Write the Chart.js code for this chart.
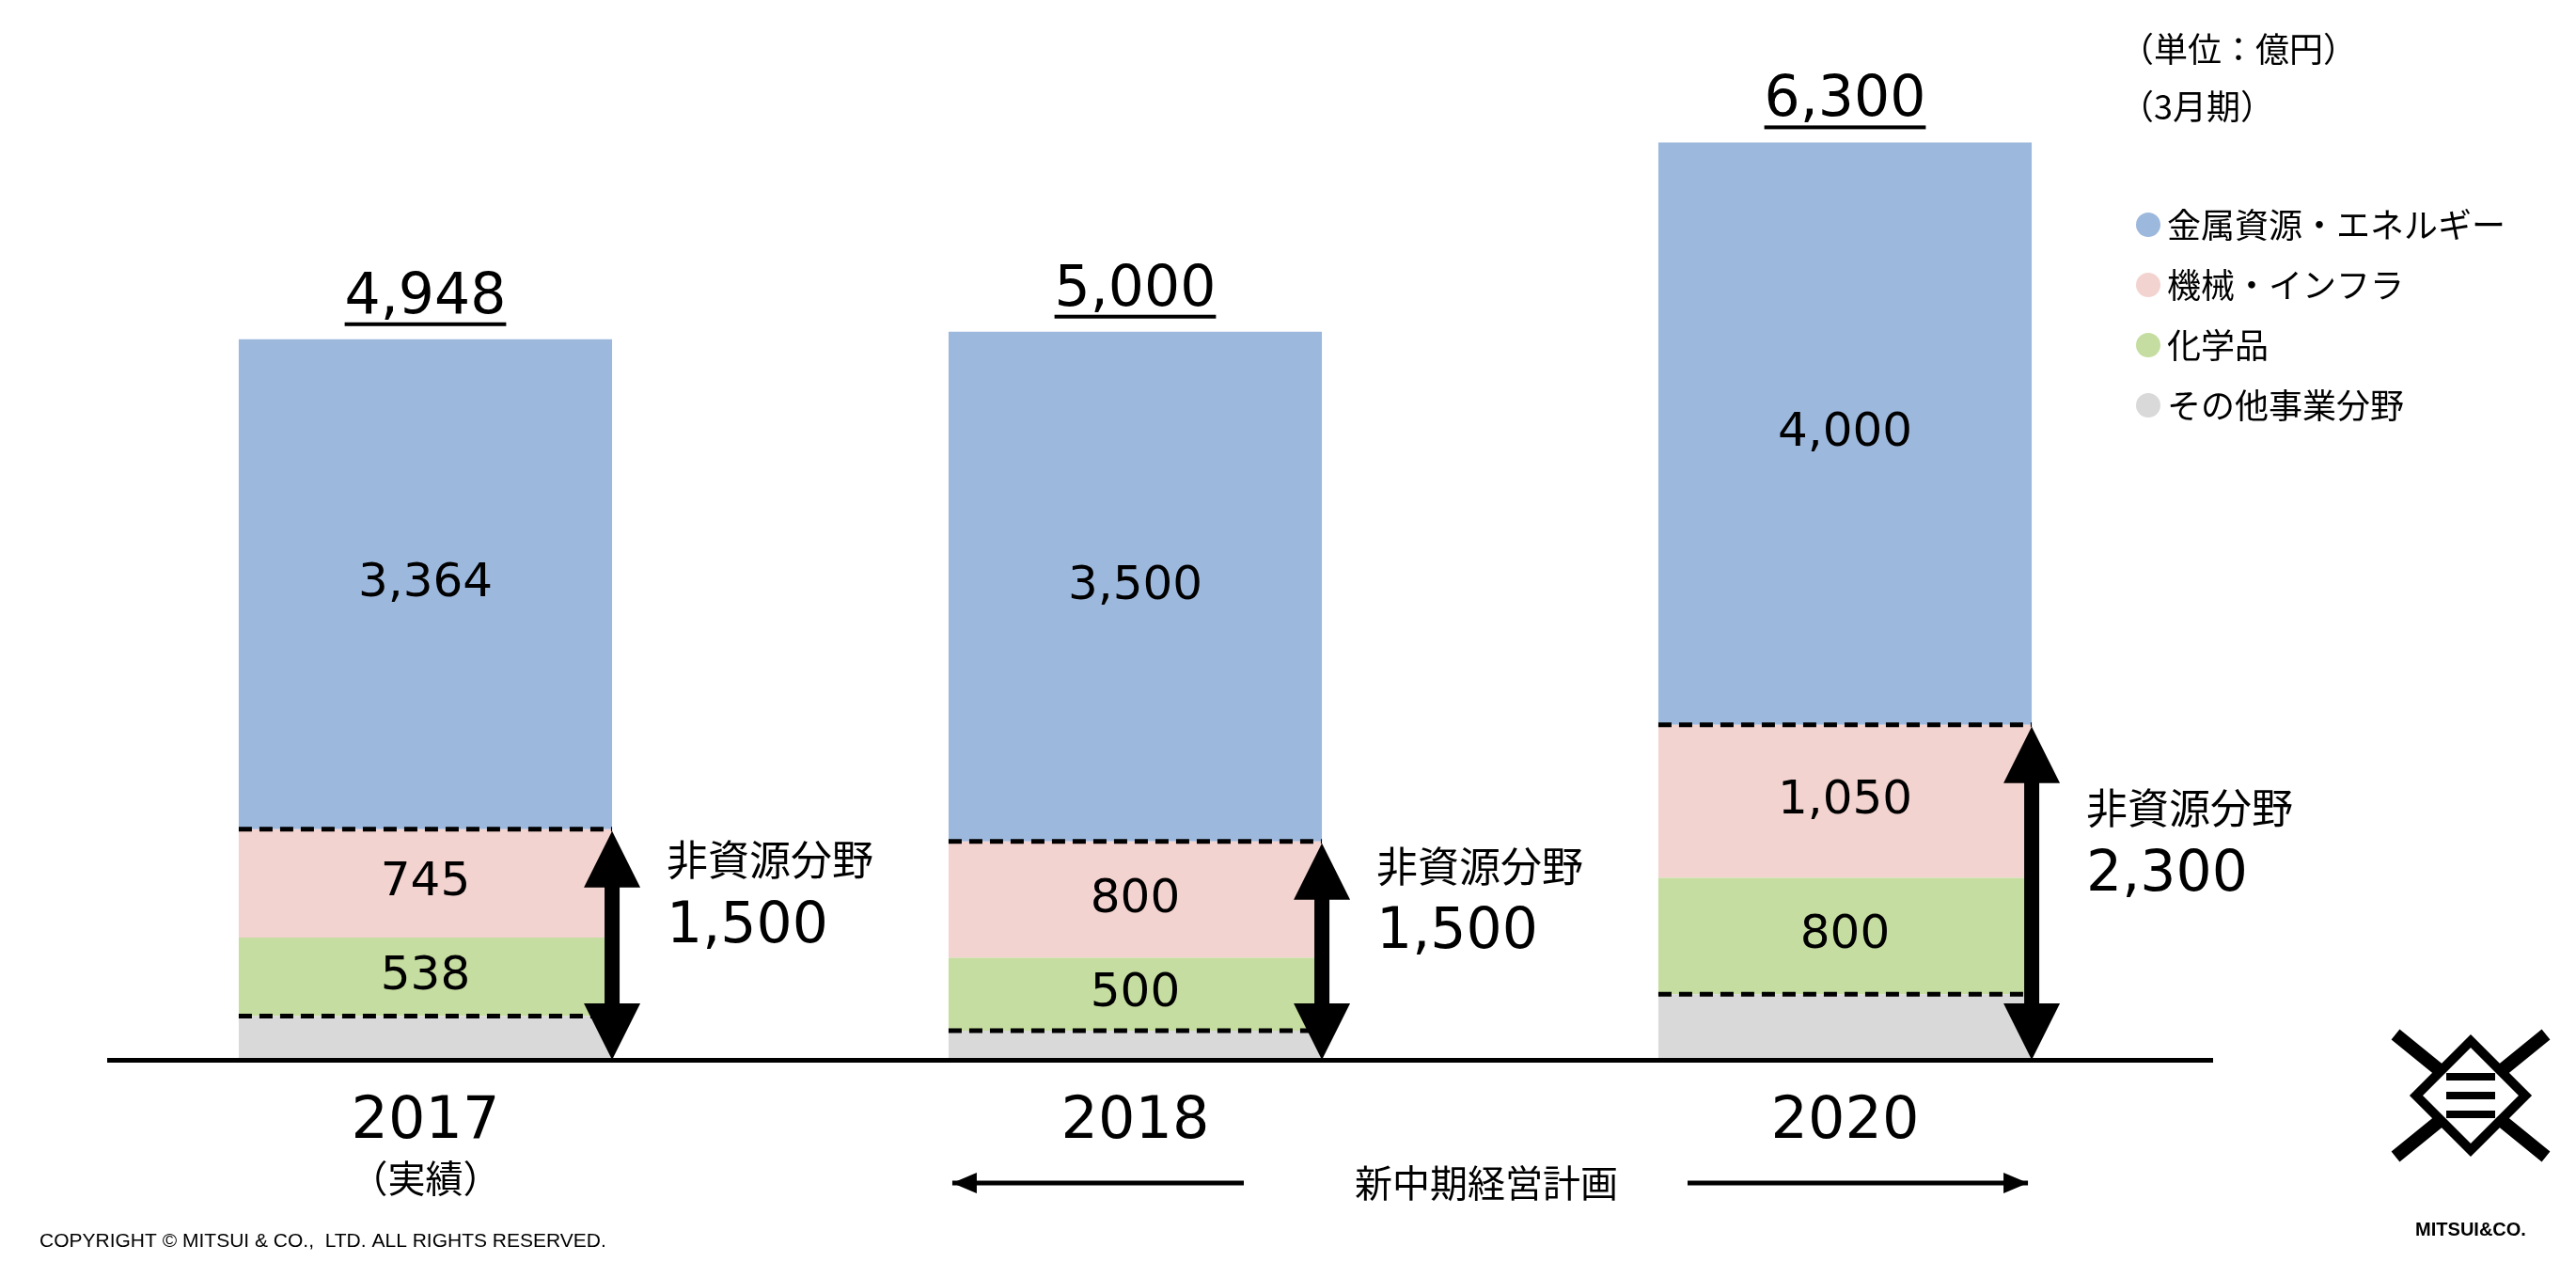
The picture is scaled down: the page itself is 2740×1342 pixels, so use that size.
<!DOCTYPE html>
<html>
<head>
<meta charset="utf-8">
<script src="https://cdn.jsdelivr.net/npm/chart.js@4"></script>
<style>
  html, body { margin: 0; padding: 0; background: #fff; }
  #wrap { width: 2740px; height: 1342px; }
</style>
</head>
<body>
<div id="wrap"><canvas id="c" width="2740" height="1342"></canvas></div>
<script>
// セグメント別当期利益（億円）
const years = ['2017', '2018', '2020'];
const yearNotes = ['（実績）', '', ''];
const other = [301, 200, 450];
const chemicals = [538, 500, 800];
const machinery = [745, 800, 1050];
const metals = [3364, 3500, 4000];
const totals = [4948, 5000, 6300];
const nonResource = [1500, 1500, 2300];
const legendNames = ['金属資源・エネルギー', '機械・インフラ', '化学品', 'その他事業分野'];
const colors = ['#9DB8DD', '#F3D3CF', '#C5DDA0', '#D9D9D9'];

const FONT = '"DejaVu Sans", "Noto Sans CJK JP", sans-serif';
const JP = '"Noto Sans CJK JP", "DejaVu Sans", sans-serif';
const fmt = v => v.toLocaleString('en-US');

function arrowV(ctx, x, y1, y2) {
    const hw = 30, hh = 60;
    ctx.fillStyle = '#000';
    ctx.fillRect(x - 8, y1 + hh - 2, 16, y2 - y1 - 2 * hh + 4);
    ctx.beginPath(); ctx.moveTo(x, y1); ctx.lineTo(x - hw, y1 + hh); ctx.lineTo(x + hw, y1 + hh); ctx.fill();
    ctx.beginPath(); ctx.moveTo(x, y2); ctx.lineTo(x - hw, y2 - hh); ctx.lineTo(x + hw, y2 - hh); ctx.fill();
}
function arrowH(ctx, x1, x2, y, dir) {
    ctx.strokeStyle = '#000'; ctx.lineWidth = 5;
    ctx.beginPath(); ctx.moveTo(x1, y); ctx.lineTo(x2, y); ctx.stroke();
    const tip = dir < 0 ? x1 : x2;
    ctx.fillStyle = '#000';
    ctx.beginPath(); ctx.moveTo(tip, y); ctx.lineTo(tip - dir * 26, y - 11); ctx.lineTo(tip - dir * 26, y + 11); ctx.fill();
}

const decor = {
    id: 'decor',
    afterDatasetsDraw(chart) {
        const ctx = chart.ctx;
        const y = chart.scales.y;
        const metaOf = i => chart.getDatasetMeta(i).data;
        ctx.save();
        years.forEach((yr, i) => {
            const bar = metaOf(0)[i];
            const left = bar.x - bar.width / 2, right = bar.x + bar.width / 2;
            const yGray = y.getPixelForValue(other[i]);
            const yGreen = y.getPixelForValue(other[i] + chemicals[i]);
            const yPink = y.getPixelForValue(other[i] + chemicals[i] + machinery[i]);
            const yTop = y.getPixelForValue(totals[i]);
            // 破線
            ctx.strokeStyle = '#000'; ctx.lineWidth = 5; ctx.setLineDash([14, 8]);
            [yGray, yPink].forEach(py => { ctx.beginPath(); ctx.moveTo(left, py); ctx.lineTo(right, py); ctx.stroke(); });
            ctx.setLineDash([]);
            // 値
            ctx.fillStyle = '#000'; ctx.textAlign = 'center'; ctx.textBaseline = 'middle';
            ctx.font = '50px ' + FONT;
            ctx.fillText(fmt(chemicals[i]), bar.x, (yGray + yGreen) / 2);
            ctx.fillText(fmt(machinery[i]), bar.x, (yGreen + yPink) / 2);
            ctx.fillText(fmt(metals[i]), bar.x, (yPink + yTop) / 2);
            // 合計（下線）
            ctx.font = '60px ' + FONT; ctx.textBaseline = 'alphabetic';
            const t = fmt(totals[i]);
            ctx.fillText(t, bar.x, yTop - 28);
            const w = ctx.measureText(t).width;
            ctx.fillRect(bar.x - w / 2, yTop - 18, w, 4);
            // 非資源分野
            const base = y.getPixelForValue(0);
            arrowV(ctx, right, yPink + 2, base);
            ctx.textAlign = 'left'; ctx.textBaseline = 'middle';
            const mid = (yPink + base) / 2;
            ctx.font = '44px ' + JP;
            ctx.fillText('非資源分野', right + 58, mid - 90);
            ctx.font = '60px ' + FONT;
            ctx.fillText(fmt(nonResource[i]), right + 58, mid - 18);
            // 年度
            ctx.textAlign = 'center'; ctx.textBaseline = 'alphabetic';
            ctx.font = '62px ' + FONT;
            ctx.fillText(yr, bar.x, 1210);
            if (yearNotes[i]) { ctx.font = '40px ' + JP; ctx.fillText(yearNotes[i], bar.x, 1268); }
        });
        // 軸線
        ctx.fillStyle = '#000';
        ctx.fillRect(114, y.getPixelForValue(0) - 2, 2240, 5);
        // 新中期経営計画
        const c2 = metaOf(0)[1], c3 = metaOf(0)[2];
        arrowH(ctx, c2.x - c2.width / 2 + 4, 1323, 1258, -1);
        arrowH(ctx, 1795, c3.x + c3.width / 2 - 4, 1258, 1);
        ctx.font = '40px ' + JP; ctx.textAlign = 'center'; ctx.textBaseline = 'middle';
        ctx.fillText('新中期経営計画', 1581, 1258);
        // 単位
        ctx.textAlign = 'left'; ctx.font = '36px ' + JP;
        ctx.fillText('（単位：億円）', 2255, 52);
        ctx.fillText('（3月期）', 2255, 113);
        // 凡例
        legendNames.forEach((n, k) => {
            const ly = 239 + k * 64;
            ctx.fillStyle = colors[k];
            ctx.beginPath(); ctx.arc(2285, ly, 13, 0, Math.PI * 2); ctx.fill();
            ctx.fillStyle = '#000';
            ctx.fillText(n, 2305, ly);
        });
        // コピーライト
        ctx.font = '21px "Liberation Sans", sans-serif';
        ctx.fillText('COPYRIGHT © MITSUI & CO.,  LTD. ALL RIGHTS RESERVED.', 42, 1320);
        // ロゴ
        const lx = 2628, ly = 1165;
        ctx.strokeStyle = '#000'; ctx.lineWidth = 14;
        ctx.beginPath();
        ctx.moveTo(lx - 80, ly - 65); ctx.lineTo(lx + 80, ly + 65);
        ctx.moveTo(lx + 80, ly - 65); ctx.lineTo(lx - 80, ly + 65);
        ctx.stroke();
        ctx.fillStyle = '#fff';
        ctx.beginPath(); ctx.moveTo(lx, ly - 58); ctx.lineTo(lx + 58, ly); ctx.lineTo(lx, ly + 58); ctx.lineTo(lx - 58, ly); ctx.fill();
        ctx.lineWidth = 10;
        ctx.beginPath(); ctx.moveTo(lx, ly - 58); ctx.lineTo(lx + 58, ly); ctx.lineTo(lx, ly + 58); ctx.lineTo(lx - 58, ly); ctx.closePath(); ctx.stroke();
        ctx.fillStyle = '#000';
        [-20, 0, 20].forEach(d => ctx.fillRect(lx - 26, ly + d - 4, 52, 8));
        ctx.font = 'bold 20px "Liberation Sans", sans-serif'; ctx.textAlign = 'center';
        ctx.fillText('MITSUI&CO.', lx, 1308);
        ctx.restore();
    }
};

new Chart(document.getElementById('c'), {
    type: 'bar',
    data: {
        labels: years,
        datasets: [
            { label: legendNames[3], data: other, backgroundColor: colors[3] },
            { label: legendNames[2], data: chemicals, backgroundColor: colors[2] },
            { label: legendNames[1], data: machinery, backgroundColor: colors[1] },
            { label: legendNames[0], data: metals, backgroundColor: colors[0] }
        ]
    },
    options: {
        responsive: false,
        animation: false,
        layout: { padding: { left: 75, right: 400, top: 43, bottom: 215 } },
        datasets: { bar: { barPercentage: 0.526, categoryPercentage: 1 } },
        scales: {
            x: { stacked: true, display: false },
            y: { stacked: true, display: false, min: 0, max: 7000 }
        },
        plugins: { legend: { display: false }, tooltip: { enabled: false } }
    },
    plugins: [decor]
});
</script>
</body>
</html>
